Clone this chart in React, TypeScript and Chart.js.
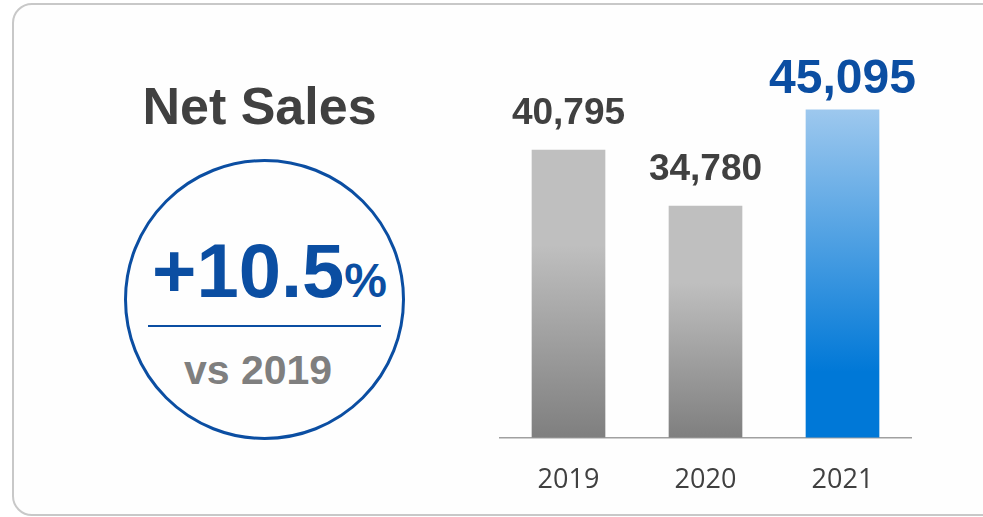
import React, { useEffect, useRef } from "react";
import { Chart, registerables } from "chart.js";

Chart.register(...registerables);

const categories = ["2019", "2020", "2021"];
const netSales = [40795, 34780, 45095];
const valueLabels = ["40,795", "34,780", "45,095"];
const highlightIndex = 2;
const yMin = 10000;
const yMax = 50000;

const BLUE = "#0B4EA2";
const DARK = "#404040";

const labelPlugin = {
  id: "valueLabels",
  afterDatasetsDraw(chart: any) {
    const ctx = chart.ctx;
    const meta = chart.getDatasetMeta(0);
    ctx.save();
    ctx.textAlign = "center";
    ctx.textBaseline = "alphabetic";
    meta.data.forEach((el: any, i: number) => {
      const hi = i === highlightIndex;
      ctx.font = `bold ${hi ? 48 : 37}px 'Liberation Sans', Arial, sans-serif`;
      ctx.fillStyle = hi ? BLUE : DARK;
      ctx.fillText(valueLabels[i], el.x, el.y - (hi ? 17 : 26));
    });
    ctx.restore();
  },
};

function barGradient(c: any) {
  const chart = c.chart;
  if (!chart.chartArea || c.type !== "data") return "#bfbfbf";
  const ys = chart.scales.y;
  const top = ys.getPixelForValue(c.raw);
  const bottom = ys.getPixelForValue(yMin);
  const g = chart.ctx.createLinearGradient(0, top, 0, bottom);
  if (c.dataIndex === highlightIndex) {
    g.addColorStop(0, "#9dc8ee");
    g.addColorStop(0.8, "#0078d7");
    g.addColorStop(1, "#0078d7");
  } else {
    g.addColorStop(0, "#bfbfbf");
    g.addColorStop(0.33, "#bfbfbf");
    g.addColorStop(1, "#7f7f7f");
  }
  return g;
}

function BarChart() {
  const ref = useRef<HTMLCanvasElement>(null);
  useEffect(() => {
    if (!ref.current) return;
    const chart = new Chart(ref.current, {
      type: "bar",
      data: {
        labels: categories,
        datasets: [
          {
            data: netSales,
            backgroundColor: barGradient as any,
            barThickness: 73,
            borderWidth: 0,
          },
        ],
      },
      options: {
        animation: false,
        responsive: true,
        maintainAspectRatio: false,
        layout: { padding: { left: 20, right: 29, top: 64, bottom: 0 } },
        plugins: { legend: { display: false }, tooltip: { enabled: false } },
        scales: {
          y: { display: false, min: yMin, max: yMax },
          x: {
            grid: { display: false, drawTicks: false },
            border: { display: true, color: "#a0a0a0", width: 1.5 },
            ticks: {
              color: DARK,
              padding: 27,
              font: { family: "'Open Sans', 'Noto Sans', sans-serif", size: 27 },
            },
          },
        },
      },
      plugins: [labelPlugin],
    });
    return () => chart.destroy();
  }, []);
  return (
    <div style={{ position: "absolute", left: 480, top: 0, width: 460, height: 524 }}>
      <canvas ref={ref} />
    </div>
  );
}

export default function App() {
  const font = "'Liberation Sans', Arial, sans-serif";
  return (
    <div
      style={{
        position: "fixed",
        left: 0,
        top: 0,
        width: 983,
        height: 517,
        overflow: "hidden",
        background: "#ffffff",
      }}
    >
      <div
        style={{
          position: "absolute",
          left: 12,
          top: 3,
          width: 990,
          height: 513,
          border: "2px solid #c8c8c8",
          borderRadius: 20,
          boxSizing: "border-box",
          background: "#fefefe",
        }}
      />
      <div
        style={{
          position: "absolute",
          left: 0,
          top: 80,
          width: 519,
          textAlign: "center",
          font: `bold 52px/1 ${font}`,
          color: DARK,
          whiteSpace: "nowrap",
        }}
      >
        Net Sales
      </div>
      <div
        style={{
          position: "absolute",
          left: 124,
          top: 159,
          width: 281,
          height: 281,
          border: `3px solid ${BLUE}`,
          borderRadius: "50%",
          boxSizing: "border-box",
        }}
      />
      <div
        style={{
          position: "absolute",
          left: 0,
          top: 233,
          width: 539,
          textAlign: "center",
          font: `bold 76px/1 ${font}`,
          color: BLUE,
          whiteSpace: "nowrap",
        }}
      >
        +10.5<span style={{ fontSize: 48 }}>%</span>
      </div>
      <div
        style={{
          position: "absolute",
          left: 148,
          top: 325,
          width: 233,
          height: 2,
          background: BLUE,
        }}
      />
      <div
        style={{
          position: "absolute",
          left: 0,
          top: 350,
          width: 516,
          textAlign: "center",
          font: `bold 41px/1 ${font}`,
          color: "#7f7f7f",
          whiteSpace: "nowrap",
        }}
      >
        vs 2019
      </div>
      <BarChart />
    </div>
  );
}
